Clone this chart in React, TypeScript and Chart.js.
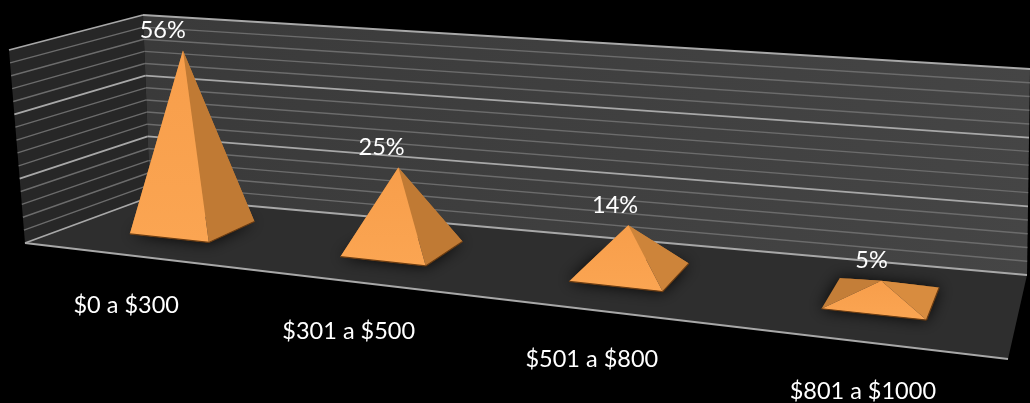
import React, { useEffect, useRef } from "react";
import { Chart, registerables } from "chart.js";

Chart.register(...registerables);

const categories = ["$0 a $300", "$301 a $500", "$501 a $800", "$801 a $1000"];
const shares = [56, 25, 14, 5];
const axisMax = 60;
const minorStep = 4;
const majorStep = 20;

type P = [number, number];

// Box corners of the 3-D plot: front-left, front-right, back-right, back-left
const floorQuad: P[] = [[25, 243], [1008, 359], [1027, 275], [150, 197]];
const topQuad: P[] = [[9, 50], [1015, 136], [1030, 69], [143, 15]];

function quadMap(q: P[]) {
  const [[x0, y0], [x1, y1], [x2, y2], [x3, y3]] = q;
  const dx1 = x1 - x2, dx2 = x3 - x2, sx = x0 - x1 + x2 - x3;
  const dy1 = y1 - y2, dy2 = y3 - y2, sy = y0 - y1 + y2 - y3;
  const den = dx1 * dy2 - dx2 * dy1;
  const g = (sx * dy2 - dx2 * sy) / den;
  const h = (dx1 * sy - sx * dy1) / den;
  const a = x1 - x0 + g * x1, b = x3 - x0 + h * x3;
  const d = y1 - y0 + g * y1, e = y3 - y0 + h * y3;
  return (u: number, v: number): P => {
    const w = g * u + h * v + 1;
    const hx = (a * u + b * v + x0) / w, hy = (d * u + e * v + y0) / w;
    const lx = (x0 * (1 - u) + x1 * u) * (1 - v) + (x3 * (1 - u) + x2 * u) * v;
    const ly = (y0 * (1 - u) + y1 * u) * (1 - v) + (y3 * (1 - u) + y2 * u) * v;
    return [(hx + lx) / 2, (hy + ly) / 2];
  };
}
const floorMap = quadMap(floorQuad);
const topMap = quadMap(topQuad);
const project = (u: number, v: number, z: number): P => {
  const f = floorMap(u, v), t = topMap(u, v);
  return [f[0] + (t[0] - f[0]) * z, f[1] + (t[1] - f[1]) * z];
};

function poly(ctx: CanvasRenderingContext2D, pts: P[], fill: string | CanvasGradient) {
  ctx.beginPath();
  pts.forEach((p, i) => (i ? ctx.lineTo(p[0], p[1]) : ctx.moveTo(p[0], p[1])));
  ctx.closePath();
  ctx.fillStyle = fill;
  ctx.fill();
}
function seg(ctx: CanvasRenderingContext2D, a: P, b: P, color: string, width: number) {
  ctx.beginPath();
  ctx.moveTo(a[0], a[1]);
  ctx.lineTo(b[0], b[1]);
  ctx.strokeStyle = color;
  ctx.lineWidth = width;
  ctx.stroke();
}

const FONT = '23.5px Lato, "Open Sans", sans-serif';

const pyramid3d = {
  id: "pyramid3d",
  beforeDatasetsDraw(chart: any) {
    const ctx: CanvasRenderingContext2D = chart.ctx;
    const area = chart.chartArea;
    const yScale = chart.scales.y;
    const zOf = (py: number) => (area.bottom - py) / (area.bottom - area.top);
    ctx.save();

    // walls and floor
    poly(ctx, [project(0, 0, 0), project(0, 1, 0), project(0, 1, 1), project(0, 0, 1)], "#272727");
    const wall = ctx.createLinearGradient(145, 0, 1030, 0);
    wall.addColorStop(0, "#3a3a3a");
    wall.addColorStop(1, "#454545");
    poly(ctx, [project(0, 1, 0), project(1, 1, 0), project(1, 1, 1), project(0, 1, 1)], wall);
    poly(ctx, [project(0, 0, 0), project(1, 0, 0), project(1, 1, 0), project(0, 1, 0)], "#2e2e2e");

    // gridlines from the value scale
    yScale.ticks.forEach((t: any) => {
      const z = zOf(yScale.getPixelForValue(t.value));
      const major = t.value % majorStep === 0;
      const color = major ? "#a8a8a8" : "#6c6c6c";
      const w = major ? 1.8 : 1.4;
      seg(ctx, project(0, 0, z), project(0, 1, z), color, w);
      seg(ctx, project(0, 1, z), project(1, 1, z), color, w);
    });
    seg(ctx, project(0, 0, 0), project(1, 0, 0), "#a8a8a8", 1.8);

    // pyramids
    const bars = chart.getDatasetMeta(0).data;
    const halfU = 0.048, halfV = 0.205, midV = 0.535;
    bars.forEach((bar: any) => {
      const u = (bar.x - area.left) / (area.right - area.left);
      const z = zOf(bar.y);
      const fl = project(u - halfU, midV - halfV, 0);
      const fr = project(u + halfU, midV - halfV, 0);
      const br = project(u + halfU, midV + halfV, 0);
      const bl = project(u - halfU, midV + halfV, 0);
      const apex = project(u, midV, z);

      ctx.save();
      ctx.shadowColor = "rgba(0,0,0,0.9)";
      ctx.shadowBlur = 16;
      poly(ctx, [fl, fr, br, bl], "#1c1c1c");
      ctx.restore();

      poly(ctx, [bl, br, apex], "#c47e38");
      poly(ctx, [fl, bl, apex], "#c47e38");
      const t = Math.min(1, z * 2.4);
      const rc = [222 - 30 * t, 145 - 23 * t, 66 - 14 * t].map(Math.round);
      poly(ctx, [fr, br, apex], `rgb(${rc[0]},${rc[1]},${rc[2]})`);
      const grad = ctx.createLinearGradient(0, apex[1], 0, fr[1]);
      grad.addColorStop(0, "#f79e4b");
      grad.addColorStop(1, "#fba552");
      poly(ctx, [fl, fr, apex], grad);
      seg(ctx, fl, fr, "#6b3c12", 1.2);
      seg(ctx, fr, br, "#6b3c12", 1.2);
    });
    ctx.restore();
  },
  afterDatasetsDraw(chart: any) {
    const ctx: CanvasRenderingContext2D = chart.ctx;
    const area = chart.chartArea;
    const bars = chart.getDatasetMeta(0).data;
    const ds = chart.data.datasets[0].data;
    ctx.save();
    ctx.font = FONT;
    ctx.fillStyle = "#ffffff";
    ctx.textAlign = "center";
    ctx.textBaseline = "middle";
    bars.forEach((bar: any, i: number) => {
      const u = (bar.x - area.left) / (area.right - area.left);
      const z = (area.bottom - bar.y) / (area.bottom - area.top);
      const apex = project(u, 0.535, z);
      ctx.fillText(`${ds[i]}%`, apex[0] - 22 + 14 * u, apex[1] - 20);
      const front = project(u, 0, 0);
      ctx.fillText(String(chart.data.labels[i]), front[0] - 4 + 8 * u, front[1] + 50);
    });
    ctx.restore();
  },
};

export default function App() {
  const ref = useRef<HTMLCanvasElement>(null);
  useEffect(() => {
    document.body.style.margin = "0";
    document.body.style.background = "#000";
    const chart = new Chart(ref.current!, {
      type: "bar",
      data: {
        labels: categories,
        datasets: [{ data: shares, backgroundColor: "rgba(0,0,0,0)", borderWidth: 0 }],
      },
      plugins: [pyramid3d],
      options: {
        animation: false,
        responsive: false,
        devicePixelRatio: 1,
        layout: { padding: 0 },
        plugins: { legend: { display: false }, tooltip: { enabled: false } },
        scales: {
          x: { display: false, grid: { display: false } },
          y: {
            display: false,
            min: 0,
            max: axisMax,
            ticks: { stepSize: minorStep },
            grid: { display: false },
          },
        },
      },
    });
    return () => chart.destroy();
  }, []);
  return (
    <canvas
      ref={ref}
      width={1030}
      height={403}
      style={{ display: "block", background: "#000", filter: "blur(0.6px)" }}
    />
  );
}
